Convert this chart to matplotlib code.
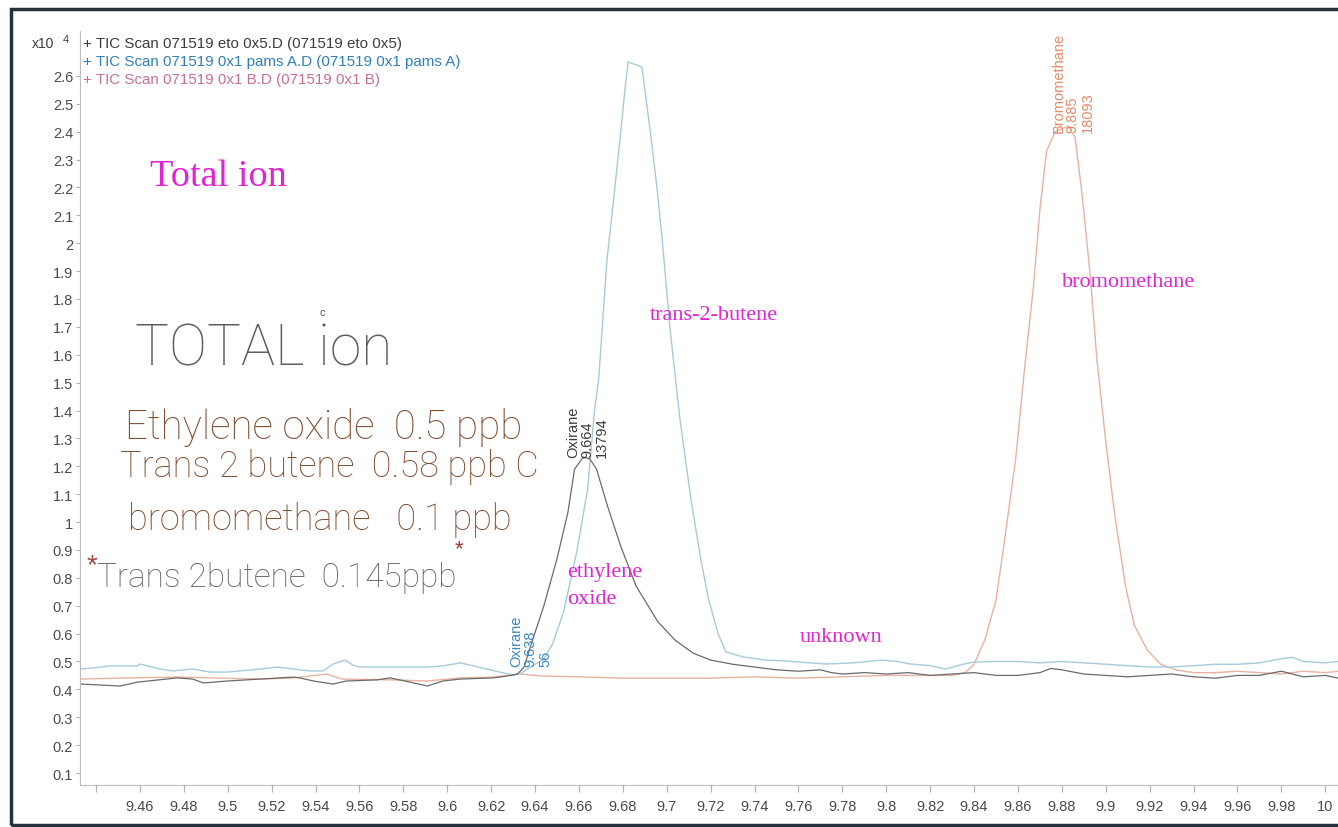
import matplotlib
matplotlib.use("Agg")
import matplotlib.pyplot as plt
import numpy as np
from matplotlib.patches import Rectangle

# TIC traces, abundance in units of 10^4 counts
eto_time = [9.433, 9.451, 9.459, 9.477, 9.484, 9.489, 9.500, 9.515, 9.530, 9.533,
            9.539, 9.548, 9.554, 9.568, 9.574, 9.583, 9.591, 9.598, 9.606, 9.621,
            9.629, 9.632, 9.635, 9.638, 9.644, 9.650, 9.655, 9.658, 9.662, 9.665,
            9.668, 9.673, 9.679, 9.686, 9.696, 9.704, 9.712, 9.720, 9.730, 9.740,
            9.750, 9.760, 9.770, 9.775, 9.780, 9.790, 9.800, 9.810, 9.820, 9.830,
            9.840, 9.850, 9.860, 9.870, 9.875, 9.880, 9.890, 9.900, 9.910, 9.920,
            9.930, 9.940, 9.950, 9.960, 9.970, 9.980, 9.985, 9.990, 10.000, 10.006]
eto_abund = [0.419, 0.412, 0.426, 0.441, 0.437, 0.423, 0.430, 0.437, 0.444, 0.441,
             0.430, 0.419, 0.430, 0.434, 0.441, 0.426, 0.412, 0.430, 0.437, 0.441,
             0.450, 0.455, 0.480, 0.556, 0.699, 0.868, 1.036, 1.190, 1.233, 1.226,
             1.190, 1.058, 0.914, 0.771, 0.642, 0.575, 0.530, 0.505, 0.490, 0.480,
             0.470, 0.465, 0.470, 0.460, 0.455, 0.460, 0.455, 0.460, 0.450, 0.455,
             0.460, 0.450, 0.450, 0.460, 0.475, 0.470, 0.455, 0.450, 0.445, 0.450,
             0.455, 0.445, 0.440, 0.450, 0.450, 0.465, 0.455, 0.445, 0.450, 0.440]

pams_time = [9.433, 9.439, 9.446, 9.459, 9.460, 9.469, 9.475, 9.484, 9.492, 9.500,
             9.515, 9.5225, 9.530, 9.5375, 9.5435, 9.548, 9.5535, 9.557, 9.560, 9.575,
             9.591, 9.598, 9.606, 9.612, 9.618, 9.624, 9.630, 9.633, 9.638, 9.644,
             9.648, 9.653, 9.659, 9.664, 9.667, 9.669, 9.6728, 9.6755, 9.6787, 9.681,
             9.6824, 9.6887, 9.691, 9.6933, 9.6956, 9.6979, 9.7015, 9.706, 9.711, 9.7155,
             9.719, 9.7234, 9.727, 9.735, 9.745, 9.754, 9.765, 9.773, 9.785, 9.798,
             9.805, 9.811, 9.820, 9.827, 9.835, 9.840, 9.850, 9.860, 9.870, 9.880,
             9.890, 9.900, 9.910, 9.920, 9.930, 9.940, 9.950, 9.960, 9.970, 9.980,
             9.985, 9.990, 10.000, 10.006]
pams_abund = [0.473, 0.477, 0.484, 0.484, 0.491, 0.473, 0.466, 0.473, 0.462, 0.462,
              0.473, 0.480, 0.473, 0.466, 0.466, 0.491, 0.505, 0.487, 0.480, 0.480,
              0.480, 0.484, 0.495, 0.484, 0.473, 0.462, 0.452, 0.455, 0.480, 0.509,
              0.563, 0.677, 0.893, 1.119, 1.395, 1.513, 1.944, 2.134, 2.374, 2.553,
              2.650, 2.632, 2.492, 2.349, 2.195, 2.015, 1.693, 1.370, 1.083, 0.868,
              0.724, 0.599, 0.534, 0.516, 0.505, 0.502, 0.495, 0.491, 0.495, 0.505,
              0.500, 0.491, 0.485, 0.473, 0.490, 0.498, 0.500, 0.500, 0.495, 0.500,
              0.495, 0.490, 0.485, 0.480, 0.480, 0.485, 0.490, 0.490, 0.495, 0.510,
              0.515, 0.500, 0.495, 0.500]

b_time = [9.433, 9.455, 9.477, 9.515, 9.530, 9.5375, 9.545, 9.552, 9.575, 9.591,
          9.606, 9.621, 9.633, 9.643, 9.660, 9.680, 9.700, 9.720, 9.740, 9.760,
          9.780, 9.800, 9.820, 9.830, 9.836, 9.840, 9.845, 9.850, 9.854, 9.859,
          9.863, 9.867, 9.870, 9.873, 9.877, 9.883, 9.886, 9.889, 9.893, 9.896,
          9.900, 9.904, 9.909, 9.913, 9.919, 9.925, 9.932, 9.940, 9.950, 9.960,
          9.970, 9.980, 9.990, 10.000, 10.006]
b_abund = [0.437, 0.441, 0.444, 0.437, 0.441, 0.448, 0.455, 0.437, 0.434, 0.430,
           0.441, 0.444, 0.455, 0.448, 0.445, 0.440, 0.440, 0.440, 0.445, 0.440,
           0.445, 0.450, 0.450, 0.450, 0.460, 0.490, 0.580, 0.720, 0.940, 1.230,
           1.550, 1.840, 2.120, 2.330, 2.400, 2.420, 2.380, 2.190, 1.880, 1.580,
           1.290, 1.030, 0.770, 0.630, 0.540, 0.490, 0.470, 0.460, 0.460, 0.465,
           0.460, 0.455, 0.465, 0.460, 0.465]

scan_labels = [
    "+ TIC Scan 071519 eto 0x5.D (071519 eto 0x5)",
    "+ TIC Scan 071519 0x1 pams A.D (071519 0x1 pams A)",
    "+ TIC Scan 071519 0x1 B.D (071519 0x1 B)",
]

# integrated peaks: name, retention time, area
peak_names = ["Oxirane", "Oxirane", "Bromomethane"]
peak_rt = [9.664, 9.638, 9.885]
peak_area = [13794, 56, 18093]

x_ticks = [9.44, 9.46, 9.48, 9.50, 9.52, 9.54, 9.56, 9.58, 9.60, 9.62, 9.64, 9.66,
           9.68, 9.70, 9.72, 9.74, 9.76, 9.78, 9.80, 9.82, 9.84, 9.86, 9.88, 9.90,
           9.92, 9.94, 9.96, 9.98, 10.0]
y_ticks = [0.1, 0.2, 0.3, 0.4, 0.5, 0.6, 0.7, 0.8, 0.9, 1.0, 1.1, 1.2, 1.3,
           1.4, 1.5, 1.6, 1.7, 1.8, 1.9, 2.0, 2.1, 2.2, 2.3, 2.4, 2.5, 2.6]

plt.rcParams['font.family'] = ['Liberation Sans', 'DejaVu Sans']

W, H = 1338, 828
fig = plt.figure(figsize=(W / 100, H / 100), dpi=100)


def fx(px):
    return px / W


def fy(py):
    return 1 - py / H


ax = fig.add_axes([fx(80), fy(786), 1 - fx(80), fy(32) - fy(786)])
ax.set_xlim(9.4327, 10.0058)
ax.set_ylim(0.057, 2.761)

trace_colors = ['#6b6b6b', '#a6cbd9', '#e6b3a0']
ax.plot(b_time, b_abund, color=trace_colors[2], lw=1.0)
ax.plot(pams_time, pams_abund, color=trace_colors[1], lw=1.0)
ax.plot(eto_time, eto_abund, color=trace_colors[0], lw=0.9)

for side in ['top', 'right']:
    ax.spines[side].set_visible(False)
for side in ['left', 'bottom']:
    ax.spines[side].set_color('#bdbdbd')
    ax.spines[side].set_linewidth(0.8)

ax.set_xticks(x_ticks)
ax.set_xticklabels([''] + ['%g' % t for t in x_ticks[1:]])
ax.set_yticks(y_ticks)
ax.set_yticklabels(['%g' % v for v in y_ticks])
ax.tick_params(axis='x', direction='out', length=5, width=0.8, color='#b0b0b0',
               labelsize=10.5, labelcolor='#4a4a4a', pad=5)
ax.tick_params(axis='y', direction='out', length=3, width=0.8, color='#b0b0b0',
               labelsize=10.5, labelcolor='#4a4a4a', pad=2)

# peak annotations sit on the trace at the retention time
label_colors = ['#3c3c3c', '#3a88c2', '#e08c6c']
traces = [(eto_time, eto_abund), (pams_time, pams_abund), (b_time, b_abund)]
for name, rt, area, color, (tt, vv) in zip(peak_names, peak_rt, peak_area,
                                             label_colors, traces):
    top = np.interp(rt, tt, vv)
    ax.annotate(f"{name}\n{rt:.3f}\n{area}", xy=(rt, top), xytext=(0, 1),
                textcoords='offset points', rotation=90, ha='center', va='bottom',
                multialignment='left', fontsize=10.5, color=color, linespacing=1.05)

# scale factor and trace legend
fig.text(fx(32), fy(44), "x10", fontsize=10, color='#3c3c3c', va='center')
fig.text(fx(63), fy(40), "4", fontsize=8, color='#3c3c3c', va='center')
legend_colors = ['#3c3c3c', '#2f80b8', '#c8708e']
for i, (txt, col) in enumerate(zip(scan_labels, legend_colors)):
    fig.text(fx(83), fy(44 + 18 * i), txt, fontsize=10.9, color=col, va='center')

# typed compound names
magenta = '#e024d4'
serif = ['Liberation Serif', 'DejaVu Serif']
fig.text(fx(150), fy(177), "Total ion", fontsize=27.5, color=magenta, family=serif, va='center')
fig.text(fx(650), fy(316), "trans-2-butene", fontsize=16, color=magenta, family=serif, va='center')
fig.text(fx(1062), fy(283), "bromomethane", fontsize=16, color=magenta, family=serif, va='center')
fig.text(fx(567), fy(573), "ethylene", fontsize=16, color=magenta, family=serif, va='center')
fig.text(fx(567), fy(600), "oxide", fontsize=16, color=magenta, family=serif, va='center')
fig.text(fx(800), fy(638), "unknown", fontsize=16, color=magenta, family=serif, va='center')

# handwritten notes
hand = ['Roboto', 'DejaVu Sans']
pencil = '#5e5e5e'
ink = '#7e4b2e'
fig.text(fx(135), fy(350), "TOTAL ion", fontsize=41, color=pencil, family=hand,
         weight='light', va='center')
fig.text(fx(319), fy(313), "c", fontsize=8, color=pencil, family=hand, va='center')
fig.text(fx(125), fy(428), "Ethylene oxide  0.5 ppb", fontsize=29, color=ink,
         family=hand, weight='light', va='center')
fig.text(fx(120), fy(467), "Trans 2 butene  0.58 ppb C", fontsize=26, color=ink,
         family=hand, weight='light', va='center')
fig.text(fx(128), fy(520), "bromomethane   0.1 ppb", fontsize=26, color=ink,
         family=hand, weight='light', va='center')
fig.text(fx(97), fy(578), "Trans 2butene  0.145ppb", fontsize=24, color=pencil,
         family=hand, weight='light', va='center')
fig.text(fx(92), fy(566), "*", fontsize=20, color='#a04848', ha='center', va='center')
fig.text(fx(459), fy(550), "*", fontsize=16, color='#a03a3a', ha='center', va='center')

# scanned page frame
fig.patches.append(Rectangle((fx(11), fy(826)), 1.2, fy(10) - fy(826),
                             transform=fig.transFigure, fill=False,
                             edgecolor='#27323f', lw=2.5))

fig.savefig("out.png", dpi=100)
